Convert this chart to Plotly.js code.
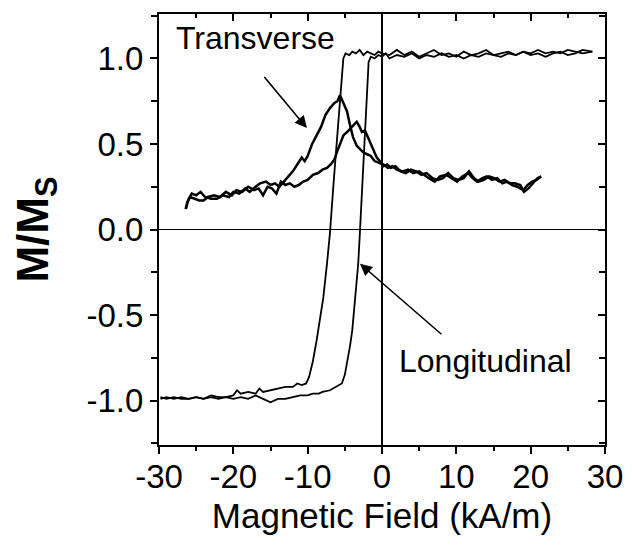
<!DOCTYPE html>
<html>
<head>
<meta charset="utf-8">
<script src="https://cdn.plot.ly/plotly-3.0.1.min.js"></script>
<style>html,body{margin:0;padding:0;background:#fff;}#chart{width:639px;height:550px;}</style>
</head>
<body>
<div id="chart"></div>
<script>
// Longitudinal hysteresis loop: descending branch (switches near -6.5 kA/m)
const longDownX = [-29.8,-29,-28,-27,-26,-25,-24,-23,-22,-21,-20,-19.5,-19,-18,-17,-16.5,-16,-15,-14,-13,-12,-11.4,-10.8,-10.2,-9.8,-9.3,-8.8,-8.3,-7.9,-7.4,-7.0,-6.5,-6.0,-5.5,-5.2,-4.9,-4.4,-4.0,-3.5,-3.0,-2.5,-2.0,-1.5,-1.0,-0.5,0,1,2,3,4,5,6,7,8,9,10,11,12,13,14,15,16,17,18,19,20,21,22,23,24,25,26,27,28.3];
const longDownY = [-0.99,-0.98,-0.99,-0.98,-0.99,-0.98,-0.99,-0.97,-0.98,-0.98,-0.97,-0.94,-0.96,-0.95,-0.96,-0.93,-0.95,-0.94,-0.93,-0.92,-0.92,-0.90,-0.91,-0.90,-0.86,-0.77,-0.65,-0.52,-0.40,-0.20,-0.02,0.28,0.58,0.88,1.00,1.03,1.02,1.04,1.03,1.05,1.02,1.04,1.03,1.02,1.04,1.03,1.02,1.05,1.02,1.04,1.01,1.03,1.05,1.02,1.03,1.01,1.04,1.02,1.03,1.05,1.02,1.03,1.04,1.02,1.04,1.03,1.05,1.03,1.04,1.03,1.05,1.04,1.03,1.04];
// Longitudinal hysteresis loop: ascending branch (switches near -3 kA/m)
const longUpX = [-29.8,-29,-28,-27,-26,-25,-24,-23,-22,-21,-20,-19,-18,-17,-16,-15,-14,-13,-12,-11,-10,-9.3,-8.5,-8,-7,-6.1,-5.4,-5.0,-4.7,-4.3,-4.0,-3.6,-3.2,-3.0,-2.7,-2.4,-2.1,-1.8,-1.5,-1.0,-0.5,0,0.5,1,2,3,4,5,6,7,8,9,10,11,12,13,14,15,16,17,18,19,20,21,22,23,24,25,26,27,28.3];
const longUpY = [-0.98,-0.99,-0.98,-0.99,-0.99,-0.98,-0.99,-0.98,-0.99,-0.98,-0.99,-0.98,-0.99,-0.97,-0.99,-1.01,-0.99,-0.99,-0.98,-0.97,-0.97,-0.96,-0.96,-0.95,-0.94,-0.92,-0.90,-0.85,-0.78,-0.68,-0.59,-0.40,-0.20,-0.04,0.20,0.45,0.75,0.98,1.01,1.00,1.02,1.01,1.03,1.00,1.02,1.01,1.03,1.00,1.02,1.01,1.03,1.01,1.02,1.00,1.02,1.01,1.03,1.02,1.01,1.03,1.02,1.04,1.02,1.03,1.01,1.03,1.04,1.02,1.03,1.05,1.04];
// Transverse: branch with the higher peak (near -5.7 kA/m)
const transAX = [-26.4,-26.0,-25.6,-25.0,-24.4,-23.8,-23.0,-22.2,-21.4,-20.6,-20.0,-19.2,-18.4,-17.8,-17.0,-16.4,-15.6,-15.0,-14.4,-13.8,-13.2,-12.6,-12.0,-11.4,-10.8,-10.4,-10.0,-9.4,-8.8,-8.2,-7.6,-7.0,-6.4,-6.0,-5.65,-5.2,-4.7,-4.3,-3.9,-3.4,-3.0,-2.5,-2.0,-1.5,-1.0,-0.4,0.2,0.8,1.4,2.0,2.8,3.5,4.2,5.0,5.6,6.3,7.1,7.8,8.6,9.3,10.1,10.8,11.6,12.2,12.8,13.5,14.1,14.8,15.5,16.2,16.8,17.5,18.2,19.0,19.6,20.2,20.8,21.4];
const transAY = [0.12,0.18,0.21,0.20,0.22,0.19,0.18,0.18,0.20,0.19,0.22,0.21,0.24,0.22,0.25,0.27,0.28,0.26,0.27,0.25,0.28,0.31,0.34,0.38,0.42,0.40,0.43,0.50,0.55,0.60,0.67,0.71,0.74,0.75,0.785,0.74,0.69,0.61,0.54,0.49,0.47,0.45,0.44,0.43,0.40,0.39,0.38,0.36,0.37,0.35,0.34,0.35,0.33,0.34,0.32,0.30,0.28,0.31,0.32,0.30,0.28,0.31,0.33,0.30,0.28,0.30,0.31,0.29,0.30,0.27,0.28,0.26,0.25,0.23,0.26,0.28,0.29,0.31];
// Transverse: branch with the lower peak (near -3.4 kA/m)
const transBX = [-26.4,-26.2,-25.8,-25.2,-24.6,-24.0,-23.4,-22.6,-21.8,-21.0,-20.2,-19.6,-18.8,-18.0,-17.2,-16.6,-16.0,-15.4,-14.8,-14.2,-13.6,-13.0,-12.4,-11.8,-11.2,-10.6,-10.0,-9.3,-8.6,-8.0,-7.4,-6.9,-6.4,-6.0,-5.6,-5.2,-4.7,-4.3,-3.8,-3.4,-3.0,-2.7,-2.3,-2.0,-1.6,-1.2,-0.7,-0.3,0.2,0.7,1.2,1.8,2.5,3.2,3.9,4.6,5.3,6.0,6.8,7.5,8.2,8.9,9.6,10.3,11.0,11.7,12.4,13.0,13.7,14.4,15.1,15.8,16.5,17.2,17.9,18.6,19.1,19.7,20.3,20.9,21.4];
const transBY = [0.12,0.16,0.19,0.18,0.17,0.17,0.19,0.20,0.19,0.22,0.20,0.23,0.22,0.25,0.23,0.24,0.20,0.25,0.24,0.21,0.28,0.26,0.27,0.25,0.26,0.28,0.29,0.32,0.33,0.35,0.36,0.38,0.41,0.46,0.51,0.55,0.57,0.59,0.61,0.63,0.60,0.57,0.58,0.55,0.50,0.46,0.42,0.40,0.37,0.38,0.36,0.37,0.34,0.33,0.35,0.34,0.32,0.33,0.30,0.29,0.30,0.33,0.30,0.29,0.30,0.34,0.30,0.28,0.29,0.31,0.30,0.28,0.29,0.27,0.27,0.26,0.22,0.24,0.27,0.30,0.31];

const xTickVals = [-30,-20,-10,0,10,20,30];
const xTickText = ['-30','-20','-10','0','10','20','30'];
const yTickVals = [-1.0,-0.5,0.0,0.5,1.0];
const yTickText = ['-1.0','-0.5','0.0','0.5','1.0'];

const FONT = 'Liberation Sans, Arial, Helvetica, sans-serif';
const line = (w) => ({color:'#000', width:w, shape:'linear'});

const traces = [
  {x:longDownX, y:longDownY, mode:'lines', line:line(1.8), name:'Longitudinal (descending)'},
  {x:longUpX, y:longUpY, mode:'lines', line:line(1.8), name:'Longitudinal (ascending)'},
  {x:transAX, y:transAY, mode:'lines', line:line(2.5), name:'Transverse A'},
  {x:transBX, y:transBY, mode:'lines', line:line(2.5), name:'Transverse B'},
  {x:[null], y:[null], xaxis:'x2', yaxis:'y2', mode:'lines', hoverinfo:'skip', name:'frame'}
];

const xr = [-30, 30], yr = [-1.26, 1.26];
const layout = {
  width:639, height:550,
  margin:{l:159, r:34, t:12, b:105},
  paper_bgcolor:'#fff', plot_bgcolor:'#fff',
  showlegend:false,
  font:{family:FONT, color:'#000'},
  xaxis:{
    range:xr, tickvals:xTickVals, ticktext:xTickText,
    ticks:'outside', ticklen:7, tickwidth:2, tickcolor:'#000',
    minor:{ticks:'outside', dtick:5, ticklen:4, tickwidth:2, tickcolor:'#000'},
    showline:true, linewidth:2, linecolor:'#000', mirror:true,
    showgrid:false, zeroline:true, zerolinecolor:'#000', zerolinewidth:2,
    tickfont:{family:FONT, size:33, color:'#000'},
    ticklabelstandoff:-6,
    title:{text:'Magnetic Field (kA/m)', font:{family:FONT, size:35, color:'#000'}, standoff:10},
    automargin:true
  },
  yaxis:{
    range:yr, tickvals:yTickVals, ticktext:yTickText,
    ticks:'outside', ticklen:7, tickwidth:2, tickcolor:'#000',
    minor:{ticks:'outside', dtick:0.25, tick0:0, ticklen:6, tickwidth:2, tickcolor:'#000'},
    showline:true, linewidth:2, linecolor:'#000', mirror:true,
    showgrid:false, zeroline:true, zerolinecolor:'#000', zerolinewidth:1.5,
    tickfont:{family:FONT, size:33, color:'#000'},
    title:{text:'<b>M/M<sub>S</sub></b>', font:{family:FONT, size:44, color:'#000'}, standoff:24},
    automargin:true
  },
  xaxis2:{
    overlaying:'x', side:'top', anchor:'y2', range:xr, tickvals:xTickVals,
    ticks:'inside', ticklen:7, tickwidth:2, tickcolor:'#000',
    minor:{ticks:'inside', dtick:5, ticklen:4, tickwidth:2, tickcolor:'#000'},
    showticklabels:false, showline:false, showgrid:false, zeroline:false
  },
  yaxis2:{
    overlaying:'y', side:'right', anchor:'x2', range:yr, tickvals:yTickVals,
    ticks:'inside', ticklen:7, tickwidth:2, tickcolor:'#000',
    minor:{ticks:'inside', dtick:0.25, tick0:0, ticklen:6, tickwidth:2, tickcolor:'#000'},
    showticklabels:false, showline:false, showgrid:false, zeroline:false
  },
  annotations:[
    {x:-17.0, y:1.12, xref:'x', yref:'y', text:'Transverse', showarrow:false,
     font:{family:FONT, size:32, color:'#000'}},
    {x:-10.1, y:0.593, ax:-16.0, ay:0.90, xref:'x', yref:'y', axref:'x', ayref:'y',
     text:'', showarrow:true, arrowhead:2, arrowsize:1.5, arrowwidth:1.6, arrowcolor:'#000'},
    {x:13.9, y:-0.77, xref:'x', yref:'y', text:'Longitudinal', showarrow:false,
     font:{family:FONT, size:32, color:'#000'}},
    {x:-2.96, y:-0.20, ax:8.2, ay:-0.62, xref:'x', yref:'y', axref:'x', ayref:'y',
     text:'', showarrow:true, arrowhead:2, arrowsize:1.5, arrowwidth:1.6, arrowcolor:'#000'}
  ]
};

Plotly.newPlot('chart', traces, layout, {staticPlot:true, displayModeBar:false});
</script>
</body>
</html>
